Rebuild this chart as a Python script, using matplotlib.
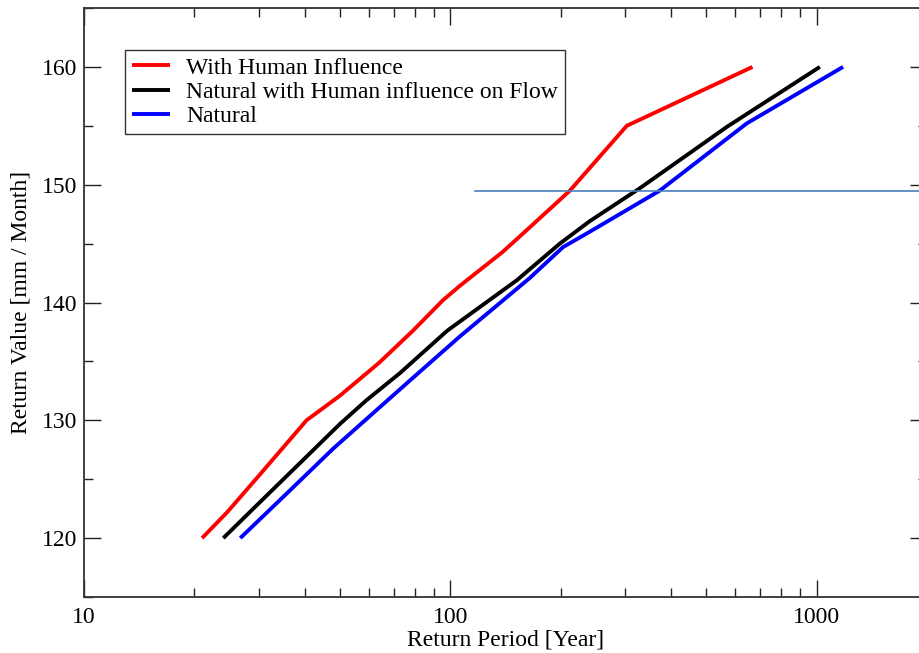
import matplotlib
matplotlib.use("Agg")
import matplotlib.pyplot as plt
from matplotlib.ticker import LogLocator, NullFormatter, FixedLocator, MultipleLocator

plt.rcParams['font.family'] = ['Liberation Serif', 'DejaVu Serif']

# Data (return period [years], return value [mm/month])
human_x = [21, 24.6, 30.8, 40.5, 50, 64, 79, 95.5, 106, 139, 165, 212, 303, 668]
human_y = [120, 122.2, 125.7, 130, 132.1, 134.9, 137.6, 140.2, 141.4, 144.3, 146.4, 149.5, 155, 160]

nathf_x = [24, 31.5, 50, 59, 72.8, 98, 152, 199, 240, 329, 568, 1020]
nathf_y = [120, 123.6, 129.7, 131.7, 134, 137.6, 141.9, 145, 146.9, 149.7, 154.9, 160]

nat_x = [26.7, 35.8, 47.9, 61.5, 79, 106, 165, 203, 240, 373, 644, 1180]
nat_y = [120, 123.8, 127.6, 130.6, 133.6, 137.1, 142.1, 144.7, 146, 149.5, 155.2, 160]

hline_y = 149.5
hline_x = [117, 2000]

labels = ["With Human Influence", "Natural with Human influence on Flow", "Natural"]

fig = plt.figure(figsize=(9.19, 6.53), dpi=100)
ax = fig.add_axes([84/919, 56/653, 843/919, 589/653])

ax.plot(human_x, human_y, color='#ff0000', lw=2.8, label=labels[0], solid_capstyle='butt')
ax.plot(nathf_x, nathf_y, color='black', lw=2.8, label=labels[1], solid_capstyle='butt')
ax.plot(nat_x, nat_y, color='#0000ff', lw=2.8, label=labels[2], solid_capstyle='butt')
ax.plot(hline_x, [hline_y, hline_y], color='#4a7ebb', lw=1.2)

ax.set_xscale('log')
ax.set_xlim(10, 2000)
ax.set_ylim(115, 165)
ax.xaxis.set_major_locator(FixedLocator([10, 100, 1000]))
ax.set_xticklabels(['10', '100', '1000'])
ax.xaxis.set_minor_locator(LogLocator(base=10, subs=range(2, 10)))
ax.xaxis.set_minor_formatter(NullFormatter())
ax.yaxis.set_major_locator(FixedLocator([120, 130, 140, 150, 160]))
ax.yaxis.set_minor_locator(MultipleLocator(5))

ax.tick_params(which='both', direction='in', top=True, right=True, labelsize=17, width=1.0, color='#222222')
ax.tick_params(which='major', length=12, pad=5)
ax.tick_params(axis='x', which='major', pad=7)
ax.tick_params(which='minor', length=6.5)
for s in ax.spines.values():
    s.set_linewidth(1.3)
    s.set_color('#333333')

ax.set_xlabel('Return Period [Year]', fontsize=17, labelpad=1)
ax.set_ylabel('Return Value [mm / Month]', fontsize=17, labelpad=7)

leg = ax.legend(loc='upper left', bbox_to_anchor=((125-84)/843, (597-50)/589),
                fontsize=17, frameon=True, fancybox=False, edgecolor='black',
                handlelength=1.6, handletextpad=0.7, labelspacing=0.12,
                borderpad=0.3, borderaxespad=0)
leg.get_frame().set_linewidth(1.0)

fig.savefig('out.png', dpi=100)
